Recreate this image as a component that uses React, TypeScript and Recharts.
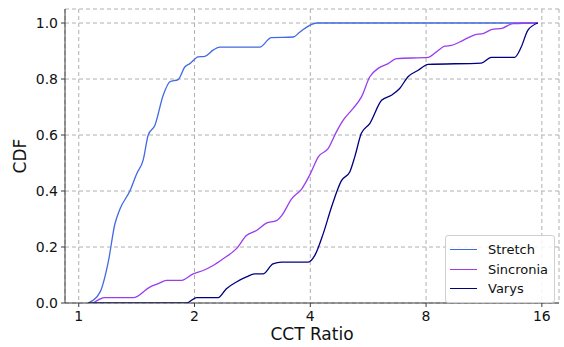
import React from 'react';
import { LineChart, Line, XAxis, YAxis, CartesianGrid, Legend } from 'recharts';

const xTicks = [1, 2, 4, 8, 16];
const yTicks = [0, 0.2, 0.4, 0.6, 0.8, 1.0];

const stretchX = [1.059, 1.136, 1.193, 1.242, 1.28, 1.359, 1.414, 1.471, 1.516, 1.578, 1.658, 1.726, 1.813, 1.887, 1.945, 2.044, 2.127, 2.235, 2.327, 2.954, 3.169, 3.613, 3.76, 4.154, 15.62];
const stretchY = [0, 0.039, 0.146, 0.283, 0.336, 0.401, 0.461, 0.511, 0.6, 0.635, 0.742, 0.79, 0.798, 0.843, 0.855, 0.879, 0.881, 0.903, 0.914, 0.914, 0.948, 0.95, 0.968, 1.0, 1.0];

const sincroniaX = [1.091, 1.17, 1.386, 1.531, 1.609, 1.692, 1.851, 1.984, 2.105, 2.235, 2.373, 2.571, 2.729, 2.897, 3.075, 3.265, 3.37, 3.577, 3.798, 4.0, 4.196, 4.454, 4.68, 4.871, 5.17, 5.434, 5.712, 6.005, 6.375, 6.7, 8.1, 8.51, 8.94, 9.31, 9.98, 10.7, 11.25, 11.82, 12.67, 13.45, 15.62];
const sincroniaY = [0, 0.019, 0.019, 0.057, 0.069, 0.081, 0.081, 0.104, 0.116, 0.134, 0.158, 0.194, 0.241, 0.259, 0.285, 0.294, 0.312, 0.372, 0.407, 0.461, 0.522, 0.552, 0.612, 0.653, 0.695, 0.736, 0.808, 0.838, 0.855, 0.873, 0.877, 0.897, 0.917, 0.92, 0.938, 0.958, 0.962, 0.976, 0.982, 0.998, 1.0];

const varysX = [1.059, 1.906, 2.024, 2.303, 2.421, 2.571, 2.729, 2.868, 3.013, 3.199, 3.37, 3.95, 4.11, 4.32, 4.54, 4.82, 5.07, 5.22, 5.43, 5.71, 6.13, 6.5, 6.83, 7.18, 7.63, 8.1, 11.13, 11.82, 13.58, 14.14, 14.71, 15.62];
const varysY = [0, 0, 0.019, 0.019, 0.051, 0.075, 0.093, 0.104, 0.104, 0.14, 0.146, 0.146, 0.17, 0.247, 0.342, 0.437, 0.469, 0.522, 0.606, 0.641, 0.724, 0.742, 0.766, 0.808, 0.831, 0.852, 0.857, 0.877, 0.877, 0.914, 0.974, 1.0];

const toPoints = (xs: number[], ys: number[]) => xs.map((x, i) => ({ x, y: ys[i] }));

const series = [
  { name: 'Stretch', color: '#4169e1', data: toPoints(stretchX, stretchY) },
  { name: 'Sincronia', color: '#9b3cf0', data: toPoints(sincroniaX, sincroniaY) },
  { name: 'Varys', color: '#000080', data: toPoints(varysX, varysY) },
];

const font = '"DejaVu Sans", sans-serif';
const frame = '#3a3a3a';

const LegendBox = () => (
  <div style={{
    background: 'rgba(255,255,255,0.85)', border: '1px solid #d0d0d0', borderRadius: 3,
    padding: '4px 0 3px 4px', fontFamily: font, fontSize: 13, color: '#111', boxSizing: 'border-box',
  }}>
    {series.map((s) => (
      <div key={s.name} style={{ display: 'flex', alignItems: 'center', height: 19.5 }}>
        <div style={{ width: 27, height: 0, borderTop: `1.5px solid ${s.color}`, marginRight: 11 }} />
        <span>{s.name}</span>
      </div>
    ))}
  </div>
);

const App: React.FC = () => {
  return (
    <div style={{ position: 'absolute', left: 0, top: 0, background: '#fff' }}>
      <LineChart width={564} height={347} margin={{ top: 9, right: 5, left: 0, bottom: 0 }}>
        <CartesianGrid stroke="#b0b0b0" strokeDasharray="4 3" />
        <XAxis
          dataKey="x"
          type="number"
          scale="log"
          domain={[0.921, 17.73]}
          allowDataOverflow
          ticks={xTicks}
          height={44}
          tickSize={4}
          tickMargin={4}
          stroke={frame}
          tick={{ fill: '#111', fontSize: 14, fontFamily: font }}
          label={{ value: 'CCT Ratio', position: 'insideBottom', offset: 7, fill: '#111', fontSize: 17, fontFamily: font }}
        />
        <XAxis xAxisId="top" orientation="top" type="number" domain={[0, 1]} height={0} tick={false} tickLine={false} stroke={frame} />
        <YAxis
          type="number"
          domain={[0, 1.05]}
          allowDataOverflow
          ticks={yTicks}
          width={65}
          tickSize={4}
          tickMargin={3}
          stroke={frame}
          tickFormatter={(v: number) => v.toFixed(1)}
          tick={{ fill: '#111', fontSize: 14, fontFamily: font }}
          label={{ value: 'CDF', angle: -90, position: 'insideLeft', offset: 20, fill: '#111', fontSize: 17, fontFamily: font, style: { textAnchor: 'middle' } }}
        />
        <YAxis yAxisId="right" orientation="right" type="number" domain={[0, 1]} width={0} tick={false} tickLine={false} stroke={frame} />
        {series.map((s) => (
          <Line
            key={s.name}
            data={s.data}
            dataKey="y"
            name={s.name}
            type="monotone"
            stroke={s.color}
            strokeWidth={1.3}
            dot={false}
            isAnimationActive={false}
          />
        ))}
        <Legend
          layout="vertical"
          align="center"
          verticalAlign="middle"
          content={<LegendBox />}
          wrapperStyle={{ left: 445, top: 235, width: 110, height: 63 }}
        />
      </LineChart>
    </div>
  );
};

export default App;
